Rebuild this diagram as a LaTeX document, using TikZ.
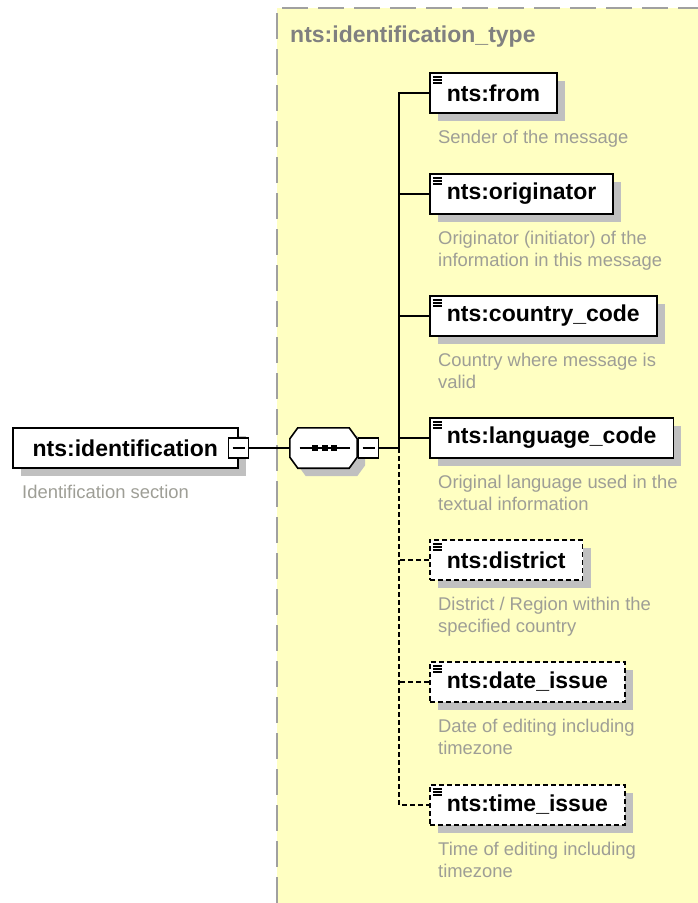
\documentclass[tikz,border=0pt]{standalone}
\usepackage{fontspec}
\setmainfont{Liberation Sans}
\usetikzlibrary{shadows}
\definecolor{typebg}{RGB}{255,255,194}
\definecolor{framegrey}{RGB}{160,160,160}
\definecolor{shadegrey}{RGB}{192,192,192}
\definecolor{titlegrey}{RGB}{128,128,128}
\definecolor{descgrey}{RGB}{158,158,150}
\tikzset{
  box/.style     = {rectangle, draw, line width=1.6pt, fill=white, anchor=west, minimum height=40pt, inner xsep=17pt,
                    font=\fontsize{23}{27}\selectfont\bfseries,
                    drop shadow={shadow xshift=8pt, shadow yshift=-8pt, fill=shadegrey, opacity=1}},
  elem/.style    = {box, path picture={\foreach \k in {0,1,2}
                    \draw[solid, line width=1.3pt] ([shift={(3pt,-4pt-3pt*\k)}]path picture bounding box.north west) -- ++(9pt,0pt);}},
  optelem/.style = {elem, dash pattern=on 5pt off 3pt},
  minus/.style   = {rectangle, draw, line width=1.3pt, fill=white, minimum size=20pt, inner sep=0},
  seqbox/.style  = {rectangle, minimum width=67pt, minimum height=40pt, inner sep=0},
  seqline/.style = {draw, line width=1.6pt, fill=white,
                    drop shadow={shadow xshift=8pt, shadow yshift=-8pt, fill=shadegrey, opacity=1}},
  link/.style    = {line width=1.6pt},
  optlink/.style = {link, dash pattern=on 5pt off 3pt},
  desc/.style    = {anchor=north west, inner sep=0, align=left, text=descgrey, font=\fontsize{18.4}{22}\selectfont},
  frame/.style   = {line width=2pt, draw=framegrey, dash pattern=on 26pt off 10pt}
}

\begin{document}
\begin{tikzpicture}[x=1pt,y=-1pt]
  \useasboundingbox (0,0) rectangle (698,903);
  % complex type area
  \fill[typebg] (277,8) rectangle (698,903);
  \draw[frame] (277,903) -- (277,8) -- (698,8);
  \node[anchor=west, inner sep=0, text=titlegrey, font=\fontsize{23}{27}\selectfont\bfseries] (title) at (290,37) {nts:identification\_type};

  % root element and sequence
  \node[box, minimum width=225pt] (ident) at (12,448) {nts:identification};
  \node[minus] (im) at (ident.east) {\rule{12pt}{1.4pt}};
  \node[desc] (identd) at (22,485) {Identification section};
  \node[seqbox] (sq) at (323.5,448) {};
  \draw[seqline] ([xshift=8pt]sq.north west) -- ([xshift=-8pt]sq.north east) -- ([yshift=-11pt]sq.north east)
    -- ([yshift=11pt]sq.south east) -- ([xshift=-8pt]sq.south east) -- ([xshift=8pt]sq.south west)
    -- ([yshift=11pt]sq.south west) -- ([yshift=-11pt]sq.north west) -- cycle;
  \draw[link] ([xshift=-24pt]sq.center) -- ([xshift=26pt]sq.center);
  \foreach \d in {-8.5,1,10.5} \fill ([xshift=\d pt]sq.center) +(-3pt,-3pt) rectangle +(3pt,3pt);
  \node[minus] (sqm) at (368.5,448) {\rule{12pt}{1.4pt}};
  \coordinate (jn) at (399,448);

  % children
  \node[elem] (frm) at (429,93) {nts:from};
  \node[desc] (frmd) at (438,130) {Sender of the message};
  \node[elem] (ori) at (429,194) {nts:originator};
  \node[desc] (orid) at (438,231) {Originator (initiator) of the\\information in this message};
  \node[elem] (cty) at (429,316) {nts:country\_code};
  \node[desc] (ctyd) at (438,353) {Country where message is\\valid};
  \node[elem] (lng) at (429,438) {nts:language\_code};
  \node[desc] (lngd) at (438,475) {Original language used in the\\textual information};
  \node[optelem] (dst) at (429,560) {nts:district};
  \node[desc] (dstd) at (438,597) {District / Region within the\\specified country};
  \node[optelem] (dat) at (429,682) {nts:date\_issue};
  \node[desc] (datd) at (438,719) {Date of editing including\\timezone};
  \node[optelem] (tim) at (429,805) {nts:time\_issue};
  \node[desc] (timd) at (438,842) {Time of editing including\\timezone};

  % connectors
  \draw[link] (im) -- (sq);
  \draw[link] (sqm) -- (jn);
  \draw[link] (frm.west) -| (jn);
  \draw[link] (ori.west) -- (ori.west -| jn);
  \draw[link] (cty.west) -- (cty.west -| jn);
  \draw[link] (lng.west) -- (lng.west -| jn);
  \draw[optlink] (jn) |- (tim.west);
  \draw[optlink] (dst.west) -- (dst.west -| jn);
  \draw[optlink] (dat.west) -- (dat.west -| jn);
\end{tikzpicture}
\end{document}
